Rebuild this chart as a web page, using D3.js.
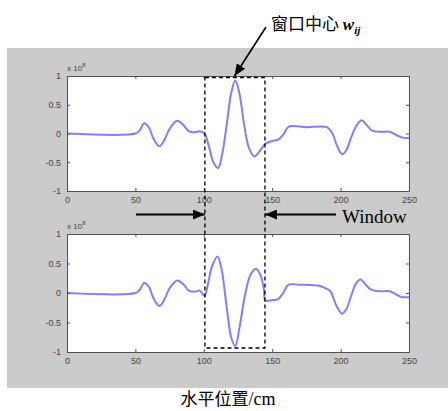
<!DOCTYPE html>
<html><head><meta charset="utf-8">
<script src="https://cdn.jsdelivr.net/npm/d3@7"></script>
<style>body{margin:0;background:#fff}svg{display:block}</style>
</head><body>
<script>
const xTicks = [0, 50, 100, 150, 200, 250];
const yTicks = [1, 0.5, 0, -0.5, -1];
const yTickLabels = ["1", "0.5", "0", "-0.5", "-1"];
const expLabel = "8";
const topX = [0,50,53,56.5,60,63,67.5,71,75,80.5,85,89,93,97,100.5,104,107,110.5,113.5,117,120,123,126,129.5,133,137,141,145,150,154,158,162,166,175,190,194,197.5,201,204,208,212,215.5,219,223,230,236,241,245,250];
const topY = [0,0,0.05,0.18,0.1,-0.08,-0.22,-0.12,0.08,0.22,0.15,0.04,0.02,0.04,0.0,-0.25,-0.5,-0.6,-0.35,0.2,0.7,0.92,0.7,0.15,-0.25,-0.4,-0.3,-0.18,-0.13,-0.11,-0.02,0.12,0.13,0.11,0.11,0.0,-0.22,-0.36,-0.3,-0.05,0.15,0.23,0.15,0.05,0.03,0.03,-0.03,-0.07,-0.08];
const botX = [0,50,53,56.5,60,63,67.5,71,75,80.5,85,89,93,97,100.5,103,106,110,113,116.5,120,123,126,130,134,138,141.5,144,145,150,154,158,162,170,185,189,192.5,197,201,204,208,211,214.5,218,222,228,236,241,245,250];
const botY = [0,0,0.05,0.17,0.1,-0.08,-0.22,-0.12,0.08,0.21,0.15,0.04,0.02,0.04,-0.05,0.15,0.45,0.62,0.4,-0.2,-0.75,-0.9,-0.6,-0.05,0.3,0.41,0.3,0.05,-0.13,-0.12,-0.11,0.0,0.14,0.14,0.12,0.08,0.03,-0.22,-0.35,-0.28,-0.03,0.15,0.23,0.15,0.06,0.03,0.03,-0.03,-0.07,-0.07];
const windowRange = [100.8, 144.7];

const W = 448, H = 411;
const svg = d3.select("body").append("svg").attr("width", W).attr("height", H);
svg.append("rect").attr("x", 7).attr("y", 48).attr("width", W - 7).attr("height", 340).attr("fill", "#cbcbcb");

const x = d3.scaleLinear().domain([0, 250]).range([67, 409]);
const panels = [
  {top: 76, bottom: 191, xs: topX, ys: topY},
  {top: 234, bottom: 352, xs: botX, ys: botY}
];
const axisCol = "#505050";
panels.forEach(p => {
  const y = d3.scaleLinear().domain([-1, 1]).range([p.bottom, p.top]);
  p.y = y;
  const g = svg.append("g");
  g.append("rect").attr("x", x(0)).attr("y", p.top).attr("width", x(250) - x(0)).attr("height", p.bottom - p.top)
    .attr("fill", "#fff");
  const data = p.xs.map((v, i) => [v, p.ys[i]]);
  g.append("path").datum(data)
    .attr("d", d3.line().x(d => x(d[0])).y(d => y(d[1])).curve(d3.curveCatmullRom.alpha(0.5)))
    .attr("fill", "none").attr("stroke", "#7f7fff").attr("stroke-width", 2);
  // axes with inward ticks
  const ax = (gen, tr) => {
    const a = g.append("g").attr("transform", tr).call(gen);
    a.select(".domain").attr("stroke", axisCol);
    a.selectAll(".tick line").attr("stroke", axisCol);
    a.selectAll("text").attr("fill", "#444").attr("font-family", "Arial, sans-serif").attr("font-size", 9);
    return a;
  };
  ax(d3.axisBottom(x).tickValues(xTicks).tickSize(-3).tickSizeOuter(0).tickPadding(6).tickFormat(d3.format("d")), `translate(0,${p.bottom})`);
  ax(d3.axisTop(x).tickValues(xTicks).tickSize(-3).tickSizeOuter(0).tickFormat(""), `translate(0,${p.top})`);
  ax(d3.axisLeft(y).tickValues(yTicks).tickSize(-3).tickSizeOuter(0).tickPadding(6).tickFormat((d, i) => yTickLabels[i]), `translate(${x(0)},0)`);
  ax(d3.axisRight(y).tickValues(yTicks).tickSize(-3).tickSizeOuter(0).tickFormat(""), `translate(${x(250)},0)`);
  const t = g.append("text").attr("x", x(0)).attr("y", p.top - 5).attr("font-family", "Arial, sans-serif")
    .attr("font-size", 8).attr("fill", "#444");
  t.append("tspan").text("x 10");
  t.append("tspan").attr("dy", -4).attr("font-size", 6).text(expLabel);
});

// dashed window box
svg.append("rect").attr("x", x(windowRange[0])).attr("y", 77.5)
  .attr("width", x(windowRange[1]) - x(windowRange[0])).attr("height", 348 - 77.5)
  .attr("fill", "none").attr("stroke", "#000").attr("stroke-width", 1.3).attr("stroke-dasharray", "4,3");

const defs = svg.append("defs");
defs.append("marker").attr("id", "ah").attr("viewBox", "0 0 12 10").attr("refX", 12).attr("refY", 5)
  .attr("markerWidth", 12).attr("markerHeight", 10).attr("markerUnits", "userSpaceOnUse").attr("orient", "auto")
  .append("path").attr("d", "M0,0L12,5L0,10Z").attr("fill", "#000");

const ay = 214.5;
svg.append("line").attr("x1", 136).attr("y1", ay).attr("x2", x(windowRange[0])).attr("y2", ay)
  .attr("stroke", "#000").attr("stroke-width", 2).attr("marker-end", "url(#ah)");
svg.append("line").attr("x1", 336).attr("y1", ay).attr("x2", x(windowRange[1])).attr("y2", ay)
  .attr("stroke", "#000").attr("stroke-width", 2).attr("marker-end", "url(#ah)");
svg.append("text").attr("x", 342).attr("y", 223).attr("font-family", "Liberation Serif, serif")
  .attr("font-size", 19).attr("fill", "#000").text("Window");

// center annotation
svg.append("line").attr("x1", 266).attr("y1", 27).attr("x2", 234.5).attr("y2", 76)
  .attr("stroke", "#000").attr("stroke-width", 1.6).attr("marker-end", "url(#ah)");
const ct = svg.append("text").attr("x", 271).attr("y", 30).attr("fill", "#000");
ct.append("tspan").attr("font-family", "Noto Sans CJK SC").attr("font-size", 17).text("窗口中心 ");
ct.append("tspan").attr("font-family", "Liberation Serif, serif").attr("font-style", "italic").attr("font-weight", "bold")
  .attr("font-size", 17).text("w");
ct.append("tspan").attr("font-family", "Liberation Serif, serif").attr("font-style", "italic").attr("font-weight", "bold")
  .attr("font-size", 11).attr("dy", 4).text("ij");

const bt = svg.append("text").attr("x", 228).attr("y", 405).attr("text-anchor", "middle").attr("fill", "#000");
bt.append("tspan").attr("font-family", "Noto Sans CJK SC").attr("font-size", 17).text("水平位置");
bt.append("tspan").attr("font-family", "Liberation Serif, serif").attr("font-size", 18).text("/cm");
</script>
</body></html>
